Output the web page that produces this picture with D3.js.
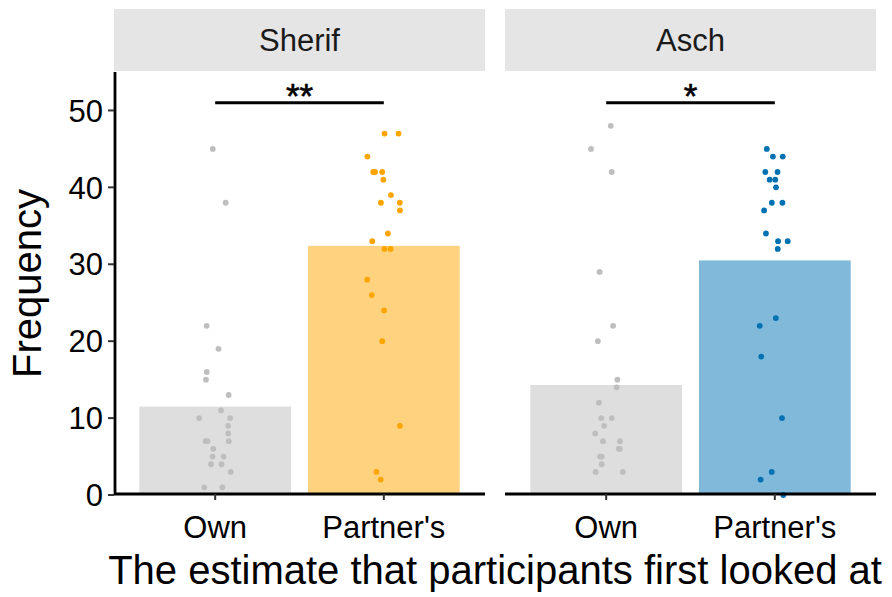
<!DOCTYPE html>
<html>
<head>
<meta charset="utf-8">
<script src="https://cdn.jsdelivr.net/npm/d3@7"></script>
<style>
  html, body { margin: 0; padding: 0; background: #ffffff; }
  svg { display: block; font-family: "Liberation Sans", Arial, Helvetica, sans-serif; }
</style>
</head>
<body>
<svg id="chart" width="892" height="597"></svg>
<script>
// ---- Data ----
const panels = ["Sherif", "Asch"];
const categories = ["Own", "Partner's"];
const yTicks = [0, 10, 20, 30, 40, 50];

const sherifOwn = [45, 38, 22, 19, 16, 15, 13, 11, 10, 10, 9, 8, 7, 7, 7, 6, 5, 5, 4, 4, 3, 1, 1];
const sherifPartner = [47, 47, 44, 42, 42, 42, 41, 39, 38, 38, 37, 34, 33, 32, 32, 28, 26, 24, 20, 9, 3, 2];
const aschOwn = [48, 45, 42, 29, 22, 20, 15, 14, 12, 10, 10, 9, 8, 7, 7, 6, 6, 5, 5, 4, 3, 3];
const aschPartner = [45, 44, 44, 42, 42, 41, 41, 40, 38, 38, 37, 34, 33, 33, 32, 23, 22, 18, 10, 3, 2, 0];

const sherifMeans = [11.5, 32.4];
const aschMeans = [14.3, 30.5];

const significance = ["**", "*"];
const bracketValue = 51;

// ---- Layout ----
const svg = d3.select("#chart");
const panelX = [114, 505];
const panelW = 371;
const plotTop = 72, plotBottom = 495;
const stripTop = 9, stripBottom = 71;

const y = d3.scaleLinear().domain([0, 55]).range([plotBottom, plotTop]);

const barFill = { Sherif: ["#dedede", "#ffd280"], Asch: ["#dedede", "#80b9d9"] };
const pointFill = { Sherif: ["#bebebe", "#ffa500"], Asch: ["#bebebe", "#0072b2"] };
const values = { Sherif: [sherifOwn, sherifPartner], Asch: [aschOwn, aschPartner] };
const means = { Sherif: sherifMeans, Asch: aschMeans };

const rng = d3.randomLcg(0.4217);
const jitter = d3.randomUniform.source(rng)(-0.1, 0.1);

panels.forEach((p, pi) => {
  const x0 = panelX[pi];
  const g = svg.append("g");
  // discrete scale with ggplot-style 0.6 expansion
  const xc = d3.scaleLinear().domain([0.4, 2.6]).range([x0, x0 + panelW]);
  const bandW = xc(1.45) - xc(1);

  // strip
  g.append("rect").attr("x", x0).attr("y", stripTop).attr("width", panelW)
    .attr("height", stripBottom - stripTop).attr("fill", "#e5e5e5");
  g.append("text").attr("x", x0 + panelW / 2).attr("y", (stripTop + stripBottom) / 2)
    .attr("dy", "0.36em").attr("text-anchor", "middle").attr("font-size", 31)
    .attr("fill", "#1a1a1a").text(p);

  // bars
  categories.forEach((c, ci) => {
    const cx = xc(ci + 1);
    g.append("rect").attr("x", cx - bandW).attr("width", bandW * 2)
      .attr("y", y(means[p][ci])).attr("height", y(0) - y(means[p][ci]))
      .attr("fill", barFill[p][ci]);
  });

  // points
  categories.forEach((c, ci) => {
    g.selectAll(null).data(values[p][ci]).enter().append("circle")
      .attr("cx", () => xc(ci + 1 + jitter()))
      .attr("cy", d => y(d))
      .attr("r", 2.9)
      .attr("fill", pointFill[p][ci]);
  });

  // x axis
  const xAxisG = g.append("g").attr("transform", `translate(0,${plotBottom - 1})`);
  xAxisG.append("line").attr("x1", x0).attr("x2", x0 + panelW)
    .attr("stroke", "#000").attr("stroke-width", 2.8);
  categories.forEach((c, ci) => {
    const cx = xc(ci + 1);
    xAxisG.append("line").attr("x1", cx).attr("x2", cx).attr("y1", 0).attr("y2", 6)
      .attr("stroke", "#333").attr("stroke-width", 2);
    xAxisG.append("text").attr("x", cx).attr("y", 44).attr("text-anchor", "middle")
      .attr("font-size", 31).attr("fill", "#000").text(c);
  });

  // significance bracket
  g.append("line").attr("x1", xc(1)).attr("x2", xc(2))
    .attr("y1", y(bracketValue)).attr("y2", y(bracketValue))
    .attr("stroke", "#000").attr("stroke-width", 3);
  g.append("text").attr("x", (xc(1) + xc(2)) / 2).attr("y", 108)
    .attr("text-anchor", "middle").attr("font-size", 35).attr("fill", "#000")
    .attr("stroke", "#000").attr("stroke-width", 0.6)
    .text(significance[pi]);

  // y axis for first panel
  if (pi === 0) {
    const ya = g.append("g");
    ya.append("line").attr("x1", x0 + 1).attr("x2", x0 + 1).attr("y1", plotTop).attr("y2", plotBottom)
      .attr("stroke", "#000").attr("stroke-width", 2.8);
    yTicks.forEach(t => {
      ya.append("line").attr("x1", x0 - 6).attr("x2", x0).attr("y1", y(t)).attr("y2", y(t))
        .attr("stroke", "#333").attr("stroke-width", 2);
      ya.append("text").attr("x", x0 - 11).attr("y", y(t)).attr("dy", "0.36em")
        .attr("text-anchor", "end").attr("font-size", 31).attr("fill", "#000").text(t);
    });
  }
});

// axis titles
svg.append("text").attr("transform", `translate(41,${(plotTop + plotBottom) / 2}) rotate(-90)`)
  .attr("text-anchor", "middle").attr("font-size", 40).attr("fill", "#000").text("Frequency");
svg.append("text").attr("x", (panelX[0] + panelX[1] + panelW) / 2).attr("y", 584)
  .attr("text-anchor", "middle").attr("font-size", 40).attr("fill", "#000")
  .text("The estimate that participants first looked at");
</script>
</body>
</html>
